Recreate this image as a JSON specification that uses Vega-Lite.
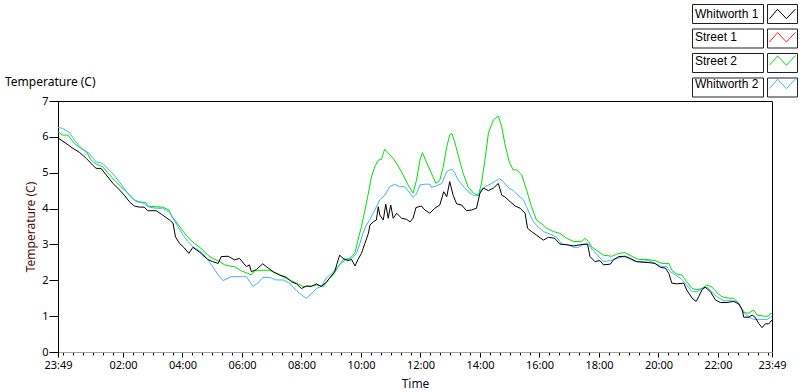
{
"$schema": "https://vega.github.io/schema/vega-lite/v6.json",
"width": 714, "height": 251,
"autosize": {"type": "none"},
"padding": {"left": 58, "top": 101, "right": 28, "bottom": 40},
"background": "white",
"config": {"view": {"stroke": "#000000", "strokeWidth": 1}, "font": "Noto Sans", "axis": {"grid": false, "labelFont": "Noto Sans", "titleFont": "Noto Sans"}},
"title": {"text": "Temperature (C)", "anchor": "start", "frame": "group", "orient": "top", "fontSize": 12, "fontWeight": "normal", "font": "Noto Sans", "color": "#000000", "dx": -53, "dy": 93, "offset": 8},
"datasets": {"temps": [
{"series":"Street 2","time":"2013-01-01T23:49","temp":6.14},
{"series":"Street 2","time":"2013-01-01T23:58","temp":6.05},
{"series":"Street 2","time":"2013-01-02T00:09","temp":6.05},
{"series":"Street 2","time":"2013-01-02T00:22","temp":5.82},
{"series":"Street 2","time":"2013-01-02T00:35","temp":5.68},
{"series":"Street 2","time":"2013-01-02T00:46","temp":5.59},
{"series":"Street 2","time":"2013-01-02T00:56","temp":5.35},
{"series":"Street 2","time":"2013-01-02T01:06","temp":5.24},
{"series":"Street 2","time":"2013-01-02T01:19","temp":5.17},
{"series":"Street 2","time":"2013-01-02T01:29","temp":5.00},
{"series":"Street 2","time":"2013-01-02T01:43","temp":4.79},
{"series":"Street 2","time":"2013-01-02T01:56","temp":4.61},
{"series":"Street 2","time":"2013-01-02T02:10","temp":4.43},
{"series":"Street 2","time":"2013-01-02T02:23","temp":4.24},
{"series":"Street 2","time":"2013-01-02T02:33","temp":4.19},
{"series":"Street 2","time":"2013-01-02T02:47","temp":4.16},
{"series":"Street 2","time":"2013-01-02T02:50","temp":4.07},
{"series":"Street 2","time":"2013-01-02T03:07","temp":4.05},
{"series":"Street 2","time":"2013-01-02T03:20","temp":4.04},
{"series":"Street 2","time":"2013-01-02T03:33","temp":3.96},
{"series":"Street 2","time":"2013-01-02T03:37","temp":3.82},
{"series":"Street 2","time":"2013-01-02T03:47","temp":3.63},
{"series":"Street 2","time":"2013-01-02T03:57","temp":3.45},
{"series":"Street 2","time":"2013-01-02T04:07","temp":3.26},
{"series":"Street 2","time":"2013-01-02T04:18","temp":3.10},
{"series":"Street 2","time":"2013-01-02T04:28","temp":2.99},
{"series":"Street 2","time":"2013-01-02T04:41","temp":2.85},
{"series":"Street 2","time":"2013-01-02T04:51","temp":2.70},
{"series":"Street 2","time":"2013-01-02T05:01","temp":2.61},
{"series":"Street 2","time":"2013-01-02T05:15","temp":2.52},
{"series":"Street 2","time":"2013-01-02T05:25","temp":2.43},
{"series":"Street 2","time":"2013-01-02T05:35","temp":2.40},
{"series":"Street 2","time":"2013-01-02T05:45","temp":2.38},
{"series":"Street 2","time":"2013-01-02T05:59","temp":2.26},
{"series":"Street 2","time":"2013-01-02T06:09","temp":2.21},
{"series":"Street 2","time":"2013-01-02T06:19","temp":2.15},
{"series":"Street 2","time":"2013-01-02T06:25","temp":2.26},
{"series":"Street 2","time":"2013-01-02T06:39","temp":2.28},
{"series":"Street 2","time":"2013-01-02T06:56","temp":2.28},
{"series":"Street 2","time":"2013-01-02T07:09","temp":2.19},
{"series":"Street 2","time":"2013-01-02T07:23","temp":2.10},
{"series":"Street 2","time":"2013-01-02T07:36","temp":2.01},
{"series":"Street 2","time":"2013-01-02T07:50","temp":1.92},
{"series":"Street 2","time":"2013-01-02T08:03","temp":1.83},
{"series":"Street 2","time":"2013-01-02T08:17","temp":1.83},
{"series":"Street 2","time":"2013-01-02T08:30","temp":1.87},
{"series":"Street 2","time":"2013-01-02T08:44","temp":1.83},
{"series":"Street 2","time":"2013-01-02T08:54","temp":2.01},
{"series":"Street 2","time":"2013-01-02T09:04","temp":2.15},
{"series":"Street 2","time":"2013-01-02T09:14","temp":2.38},
{"series":"Street 2","time":"2013-01-02T09:24","temp":2.57},
{"series":"Street 2","time":"2013-01-02T09:37","temp":2.61},
{"series":"Street 2","time":"2013-01-02T09:48","temp":2.77},
{"series":"Street 2","time":"2013-01-02T09:54","temp":3.12},
{"series":"Street 2","time":"2013-01-02T10:01","temp":3.50},
{"series":"Street 2","time":"2013-01-02T10:08","temp":3.96},
{"series":"Street 2","time":"2013-01-02T10:15","temp":4.43},
{"series":"Street 2","time":"2013-01-02T10:21","temp":4.88},
{"series":"Street 2","time":"2013-01-02T10:28","temp":5.17},
{"series":"Street 2","time":"2013-01-02T10:35","temp":5.35},
{"series":"Street 2","time":"2013-01-02T10:41","temp":5.37},
{"series":"Street 2","time":"2013-01-02T10:48","temp":5.66},
{"series":"Street 2","time":"2013-01-02T10:57","temp":5.52},
{"series":"Street 2","time":"2013-01-02T11:05","temp":5.40},
{"series":"Street 2","time":"2013-01-02T11:15","temp":5.19},
{"series":"Street 2","time":"2013-01-02T11:25","temp":4.94},
{"series":"Street 2","time":"2013-01-02T11:35","temp":4.66},
{"series":"Street 2","time":"2013-01-02T11:45","temp":4.43},
{"series":"Street 2","time":"2013-01-02T11:52","temp":4.79},
{"series":"Street 2","time":"2013-01-02T11:59","temp":5.35},
{"series":"Street 2","time":"2013-01-02T12:04","temp":5.56},
{"series":"Street 2","time":"2013-01-02T12:12","temp":5.30},
{"series":"Street 2","time":"2013-01-02T12:22","temp":4.99},
{"series":"Street 2","time":"2013-01-02T12:31","temp":4.70},
{"series":"Street 2","time":"2013-01-02T12:39","temp":4.79},
{"series":"Street 2","time":"2013-01-02T12:46","temp":5.17},
{"series":"Street 2","time":"2013-01-02T12:53","temp":5.72},
{"series":"Street 2","time":"2013-01-02T12:59","temp":6.05},
{"series":"Street 2","time":"2013-01-02T13:03","temp":6.10},
{"series":"Street 2","time":"2013-01-02T13:09","temp":5.86},
{"series":"Street 2","time":"2013-01-02T13:16","temp":5.50},
{"series":"Street 2","time":"2013-01-02T13:26","temp":4.99},
{"series":"Street 2","time":"2013-01-02T13:36","temp":4.61},
{"series":"Street 2","time":"2013-01-02T13:47","temp":4.43},
{"series":"Street 2","time":"2013-01-02T13:57","temp":4.37},
{"series":"Street 2","time":"2013-01-02T14:03","temp":4.70},
{"series":"Street 2","time":"2013-01-02T14:10","temp":5.35},
{"series":"Street 2","time":"2013-01-02T14:17","temp":6.10},
{"series":"Street 2","time":"2013-01-02T14:27","temp":6.47},
{"series":"Street 2","time":"2013-01-02T14:37","temp":6.58},
{"series":"Street 2","time":"2013-01-02T14:44","temp":6.28},
{"series":"Street 2","time":"2013-01-02T14:50","temp":5.82},
{"series":"Street 2","time":"2013-01-02T14:59","temp":5.30},
{"series":"Street 2","time":"2013-01-02T15:07","temp":5.08},
{"series":"Street 2","time":"2013-01-02T15:14","temp":5.08},
{"series":"Street 2","time":"2013-01-02T15:24","temp":4.94},
{"series":"Street 2","time":"2013-01-02T15:34","temp":4.52},
{"series":"Street 2","time":"2013-01-02T15:44","temp":4.05},
{"series":"Street 2","time":"2013-01-02T15:54","temp":3.68},
{"series":"Street 2","time":"2013-01-02T16:05","temp":3.57},
{"series":"Street 2","time":"2013-01-02T16:15","temp":3.45},
{"series":"Street 2","time":"2013-01-02T16:28","temp":3.36},
{"series":"Street 2","time":"2013-01-02T16:41","temp":3.31},
{"series":"Street 2","time":"2013-01-02T16:55","temp":3.17},
{"series":"Street 2","time":"2013-01-02T17:09","temp":3.08},
{"series":"Street 2","time":"2013-01-02T17:25","temp":3.08},
{"series":"Street 2","time":"2013-01-02T17:32","temp":3.17},
{"series":"Street 2","time":"2013-01-02T17:39","temp":3.08},
{"series":"Street 2","time":"2013-01-02T17:46","temp":2.92},
{"series":"Street 2","time":"2013-01-02T17:54","temp":2.85},
{"series":"Street 2","time":"2013-01-02T18:09","temp":2.70},
{"series":"Street 2","time":"2013-01-02T18:26","temp":2.67},
{"series":"Street 2","time":"2013-01-02T18:40","temp":2.75},
{"series":"Street 2","time":"2013-01-02T18:53","temp":2.77},
{"series":"Street 2","time":"2013-01-02T19:06","temp":2.67},
{"series":"Street 2","time":"2013-01-02T19:20","temp":2.58},
{"series":"Street 2","time":"2013-01-02T19:37","temp":2.58},
{"series":"Street 2","time":"2013-01-02T19:53","temp":2.55},
{"series":"Street 2","time":"2013-01-02T20:07","temp":2.47},
{"series":"Street 2","time":"2013-01-02T20:21","temp":2.47},
{"series":"Street 2","time":"2013-01-02T20:27","temp":2.28},
{"series":"Street 2","time":"2013-01-02T20:37","temp":2.17},
{"series":"Street 2","time":"2013-01-02T20:47","temp":2.15},
{"series":"Street 2","time":"2013-01-02T20:57","temp":1.96},
{"series":"Street 2","time":"2013-01-02T21:08","temp":1.77},
{"series":"Street 2","time":"2013-01-02T21:18","temp":1.74},
{"series":"Street 2","time":"2013-01-02T21:28","temp":1.77},
{"series":"Street 2","time":"2013-01-02T21:38","temp":1.87},
{"series":"Street 2","time":"2013-01-02T21:48","temp":1.81},
{"series":"Street 2","time":"2013-01-02T21:58","temp":1.65},
{"series":"Street 2","time":"2013-01-02T22:08","temp":1.54},
{"series":"Street 2","time":"2013-01-02T22:22","temp":1.50},
{"series":"Street 2","time":"2013-01-02T22:32","temp":1.50},
{"series":"Street 2","time":"2013-01-02T22:42","temp":1.36},
{"series":"Street 2","time":"2013-01-02T22:52","temp":1.09},
{"series":"Street 2","time":"2013-01-02T23:02","temp":1.09},
{"series":"Street 2","time":"2013-01-02T23:12","temp":1.17},
{"series":"Street 2","time":"2013-01-02T23:19","temp":1.03},
{"series":"Street 2","time":"2013-01-02T23:32","temp":1.00},
{"series":"Street 2","time":"2013-01-02T23:42","temp":1.00},
{"series":"Street 2","time":"2013-01-02T23:46","temp":1.08},
{"series":"Street 2","time":"2013-01-02T23:49","temp":1.08},
{"series":"Whitworth 2","time":"2013-01-01T23:49","temp":6.26},
{"series":"Whitworth 2","time":"2013-01-01T23:58","temp":6.24},
{"series":"Whitworth 2","time":"2013-01-02T00:12","temp":6.12},
{"series":"Whitworth 2","time":"2013-01-02T00:25","temp":5.86},
{"series":"Whitworth 2","time":"2013-01-02T00:39","temp":5.65},
{"series":"Whitworth 2","time":"2013-01-02T00:52","temp":5.54},
{"series":"Whitworth 2","time":"2013-01-02T01:06","temp":5.30},
{"series":"Whitworth 2","time":"2013-01-02T01:19","temp":5.26},
{"series":"Whitworth 2","time":"2013-01-02T01:29","temp":5.12},
{"series":"Whitworth 2","time":"2013-01-02T01:40","temp":4.97},
{"series":"Whitworth 2","time":"2013-01-02T01:50","temp":4.79},
{"series":"Whitworth 2","time":"2013-01-02T02:00","temp":4.61},
{"series":"Whitworth 2","time":"2013-01-02T02:13","temp":4.37},
{"series":"Whitworth 2","time":"2013-01-02T02:27","temp":4.19},
{"series":"Whitworth 2","time":"2013-01-02T02:40","temp":4.16},
{"series":"Whitworth 2","time":"2013-01-02T02:53","temp":4.04},
{"series":"Whitworth 2","time":"2013-01-02T03:07","temp":4.01},
{"series":"Whitworth 2","time":"2013-01-02T03:20","temp":4.01},
{"series":"Whitworth 2","time":"2013-01-02T03:34","temp":3.89},
{"series":"Whitworth 2","time":"2013-01-02T03:41","temp":3.73},
{"series":"Whitworth 2","time":"2013-01-02T03:51","temp":3.50},
{"series":"Whitworth 2","time":"2013-01-02T04:01","temp":3.26},
{"series":"Whitworth 2","time":"2013-01-02T04:11","temp":3.08},
{"series":"Whitworth 2","time":"2013-01-02T04:21","temp":2.94},
{"series":"Whitworth 2","time":"2013-01-02T04:31","temp":2.85},
{"series":"Whitworth 2","time":"2013-01-02T04:41","temp":2.75},
{"series":"Whitworth 2","time":"2013-01-02T04:51","temp":2.57},
{"series":"Whitworth 2","time":"2013-01-02T05:01","temp":2.38},
{"series":"Whitworth 2","time":"2013-01-02T05:12","temp":2.15},
{"series":"Whitworth 2","time":"2013-01-02T05:22","temp":1.99},
{"series":"Whitworth 2","time":"2013-01-02T05:28","temp":2.03},
{"series":"Whitworth 2","time":"2013-01-02T05:38","temp":2.10},
{"series":"Whitworth 2","time":"2013-01-02T06:09","temp":2.10},
{"series":"Whitworth 2","time":"2013-01-02T06:22","temp":1.83},
{"series":"Whitworth 2","time":"2013-01-02T06:32","temp":1.92},
{"series":"Whitworth 2","time":"2013-01-02T06:42","temp":2.08},
{"series":"Whitworth 2","time":"2013-01-02T06:56","temp":2.08},
{"series":"Whitworth 2","time":"2013-01-02T07:09","temp":2.01},
{"series":"Whitworth 2","time":"2013-01-02T07:23","temp":2.01},
{"series":"Whitworth 2","time":"2013-01-02T07:36","temp":1.92},
{"series":"Whitworth 2","time":"2013-01-02T07:50","temp":1.71},
{"series":"Whitworth 2","time":"2013-01-02T08:03","temp":1.56},
{"series":"Whitworth 2","time":"2013-01-02T08:10","temp":1.50},
{"series":"Whitworth 2","time":"2013-01-02T08:20","temp":1.62},
{"series":"Whitworth 2","time":"2013-01-02T08:30","temp":1.77},
{"series":"Whitworth 2","time":"2013-01-02T08:40","temp":1.83},
{"series":"Whitworth 2","time":"2013-01-02T08:50","temp":2.06},
{"series":"Whitworth 2","time":"2013-01-02T09:00","temp":2.19},
{"series":"Whitworth 2","time":"2013-01-02T09:11","temp":2.34},
{"series":"Whitworth 2","time":"2013-01-02T09:21","temp":2.49},
{"series":"Whitworth 2","time":"2013-01-02T09:31","temp":2.58},
{"series":"Whitworth 2","time":"2013-01-02T09:41","temp":2.61},
{"series":"Whitworth 2","time":"2013-01-02T09:51","temp":2.75},
{"series":"Whitworth 2","time":"2013-01-02T09:58","temp":3.03},
{"series":"Whitworth 2","time":"2013-01-02T10:04","temp":3.31},
{"series":"Whitworth 2","time":"2013-01-02T10:11","temp":3.54},
{"series":"Whitworth 2","time":"2013-01-02T10:18","temp":3.70},
{"series":"Whitworth 2","time":"2013-01-02T10:28","temp":3.96},
{"series":"Whitworth 2","time":"2013-01-02T10:38","temp":4.24},
{"series":"Whitworth 2","time":"2013-01-02T10:48","temp":4.37},
{"series":"Whitworth 2","time":"2013-01-02T10:58","temp":4.61},
{"series":"Whitworth 2","time":"2013-01-02T11:08","temp":4.68},
{"series":"Whitworth 2","time":"2013-01-02T11:18","temp":4.61},
{"series":"Whitworth 2","time":"2013-01-02T11:28","temp":4.61},
{"series":"Whitworth 2","time":"2013-01-02T11:39","temp":4.43},
{"series":"Whitworth 2","time":"2013-01-02T11:45","temp":4.31},
{"series":"Whitworth 2","time":"2013-01-02T11:52","temp":4.41},
{"series":"Whitworth 2","time":"2013-01-02T11:59","temp":4.66},
{"series":"Whitworth 2","time":"2013-01-02T12:09","temp":4.68},
{"series":"Whitworth 2","time":"2013-01-02T12:19","temp":4.68},
{"series":"Whitworth 2","time":"2013-01-02T12:22","temp":4.59},
{"series":"Whitworth 2","time":"2013-01-02T12:32","temp":4.63},
{"series":"Whitworth 2","time":"2013-01-02T12:43","temp":4.70},
{"series":"Whitworth 2","time":"2013-01-02T12:53","temp":5.03},
{"series":"Whitworth 2","time":"2013-01-02T13:03","temp":5.10},
{"series":"Whitworth 2","time":"2013-01-02T13:09","temp":5.00},
{"series":"Whitworth 2","time":"2013-01-02T13:16","temp":4.79},
{"series":"Whitworth 2","time":"2013-01-02T13:26","temp":4.63},
{"series":"Whitworth 2","time":"2013-01-02T13:36","temp":4.47},
{"series":"Whitworth 2","time":"2013-01-02T13:47","temp":4.37},
{"series":"Whitworth 2","time":"2013-01-02T13:57","temp":4.37},
{"series":"Whitworth 2","time":"2013-01-02T14:03","temp":4.54},
{"series":"Whitworth 2","time":"2013-01-02T14:13","temp":4.63},
{"series":"Whitworth 2","time":"2013-01-02T14:24","temp":4.70},
{"series":"Whitworth 2","time":"2013-01-02T14:34","temp":4.79},
{"series":"Whitworth 2","time":"2013-01-02T14:39","temp":4.84},
{"series":"Whitworth 2","time":"2013-01-02T14:47","temp":4.75},
{"series":"Whitworth 2","time":"2013-01-02T14:57","temp":4.59},
{"series":"Whitworth 2","time":"2013-01-02T15:07","temp":4.50},
{"series":"Whitworth 2","time":"2013-01-02T15:17","temp":4.37},
{"series":"Whitworth 2","time":"2013-01-02T15:28","temp":4.24},
{"series":"Whitworth 2","time":"2013-01-02T15:34","temp":4.05},
{"series":"Whitworth 2","time":"2013-01-02T15:41","temp":3.82},
{"series":"Whitworth 2","time":"2013-01-02T15:48","temp":3.63},
{"series":"Whitworth 2","time":"2013-01-02T15:58","temp":3.48},
{"series":"Whitworth 2","time":"2013-01-02T16:08","temp":3.36},
{"series":"Whitworth 2","time":"2013-01-02T16:21","temp":3.29},
{"series":"Whitworth 2","time":"2013-01-02T16:35","temp":3.20},
{"series":"Whitworth 2","time":"2013-01-02T16:45","temp":3.01},
{"series":"Whitworth 2","time":"2013-01-02T16:58","temp":2.99},
{"series":"Whitworth 2","time":"2013-01-02T17:09","temp":2.92},
{"series":"Whitworth 2","time":"2013-01-02T17:19","temp":2.92},
{"series":"Whitworth 2","time":"2013-01-02T17:29","temp":3.01},
{"series":"Whitworth 2","time":"2013-01-02T17:39","temp":3.01},
{"series":"Whitworth 2","time":"2013-01-02T17:46","temp":2.87},
{"series":"Whitworth 2","time":"2013-01-02T17:54","temp":2.75},
{"series":"Whitworth 2","time":"2013-01-02T18:09","temp":2.52},
{"series":"Whitworth 2","time":"2013-01-02T18:23","temp":2.55},
{"series":"Whitworth 2","time":"2013-01-02T18:36","temp":2.61},
{"series":"Whitworth 2","time":"2013-01-02T18:50","temp":2.66},
{"series":"Whitworth 2","time":"2013-01-02T19:00","temp":2.61},
{"series":"Whitworth 2","time":"2013-01-02T19:13","temp":2.52},
{"series":"Whitworth 2","time":"2013-01-02T19:27","temp":2.52},
{"series":"Whitworth 2","time":"2013-01-02T19:40","temp":2.55},
{"series":"Whitworth 2","time":"2013-01-02T19:53","temp":2.47},
{"series":"Whitworth 2","time":"2013-01-02T20:07","temp":2.38},
{"series":"Whitworth 2","time":"2013-01-02T20:17","temp":2.38},
{"series":"Whitworth 2","time":"2013-01-02T20:24","temp":2.24},
{"series":"Whitworth 2","time":"2013-01-02T20:34","temp":2.15},
{"series":"Whitworth 2","time":"2013-01-02T20:47","temp":2.03},
{"series":"Whitworth 2","time":"2013-01-02T20:57","temp":1.87},
{"series":"Whitworth 2","time":"2013-01-02T21:08","temp":1.68},
{"series":"Whitworth 2","time":"2013-01-02T21:18","temp":1.68},
{"series":"Whitworth 2","time":"2013-01-02T21:28","temp":1.77},
{"series":"Whitworth 2","time":"2013-01-02T21:38","temp":1.81},
{"series":"Whitworth 2","time":"2013-01-02T21:48","temp":1.68},
{"series":"Whitworth 2","time":"2013-01-02T21:58","temp":1.54},
{"series":"Whitworth 2","time":"2013-01-02T22:12","temp":1.43},
{"series":"Whitworth 2","time":"2013-01-02T22:25","temp":1.43},
{"series":"Whitworth 2","time":"2013-01-02T22:38","temp":1.41},
{"series":"Whitworth 2","time":"2013-01-02T22:49","temp":1.19},
{"series":"Whitworth 2","time":"2013-01-02T22:59","temp":1.00},
{"series":"Whitworth 2","time":"2013-01-02T23:12","temp":0.91},
{"series":"Whitworth 2","time":"2013-01-02T23:25","temp":0.91},
{"series":"Whitworth 2","time":"2013-01-02T23:39","temp":0.91},
{"series":"Whitworth 2","time":"2013-01-02T23:46","temp":0.97},
{"series":"Whitworth 2","time":"2013-01-02T23:49","temp":1.00},
{"series":"Whitworth 1","time":"2013-01-01T23:49","temp":5.97},
{"series":"Whitworth 1","time":"2013-01-02T00:05","temp":5.82},
{"series":"Whitworth 1","time":"2013-01-02T00:19","temp":5.68},
{"series":"Whitworth 1","time":"2013-01-02T00:32","temp":5.57},
{"series":"Whitworth 1","time":"2013-01-02T00:46","temp":5.40},
{"series":"Whitworth 1","time":"2013-01-02T00:59","temp":5.21},
{"series":"Whitworth 1","time":"2013-01-02T01:06","temp":5.12},
{"series":"Whitworth 1","time":"2013-01-02T01:16","temp":5.12},
{"series":"Whitworth 1","time":"2013-01-02T01:26","temp":4.94},
{"series":"Whitworth 1","time":"2013-01-02T01:40","temp":4.70},
{"series":"Whitworth 1","time":"2013-01-02T01:53","temp":4.52},
{"series":"Whitworth 1","time":"2013-01-02T02:03","temp":4.37},
{"series":"Whitworth 1","time":"2013-01-02T02:13","temp":4.19},
{"series":"Whitworth 1","time":"2013-01-02T02:23","temp":4.07},
{"series":"Whitworth 1","time":"2013-01-02T02:33","temp":4.04},
{"series":"Whitworth 1","time":"2013-01-02T02:43","temp":4.04},
{"series":"Whitworth 1","time":"2013-01-02T02:50","temp":3.94},
{"series":"Whitworth 1","time":"2013-01-02T03:07","temp":3.94},
{"series":"Whitworth 1","time":"2013-01-02T03:20","temp":3.82},
{"series":"Whitworth 1","time":"2013-01-02T03:34","temp":3.68},
{"series":"Whitworth 1","time":"2013-01-02T03:41","temp":3.59},
{"series":"Whitworth 1","time":"2013-01-02T03:46","temp":3.21},
{"series":"Whitworth 1","time":"2013-01-02T03:54","temp":3.03},
{"series":"Whitworth 1","time":"2013-01-02T04:04","temp":2.90},
{"series":"Whitworth 1","time":"2013-01-02T04:13","temp":2.75},
{"series":"Whitworth 1","time":"2013-01-02T04:21","temp":2.92},
{"series":"Whitworth 1","time":"2013-01-02T04:34","temp":2.79},
{"series":"Whitworth 1","time":"2013-01-02T04:51","temp":2.58},
{"series":"Whitworth 1","time":"2013-01-02T05:01","temp":2.52},
{"series":"Whitworth 1","time":"2013-01-02T05:12","temp":2.47},
{"series":"Whitworth 1","time":"2013-01-02T05:18","temp":2.66},
{"series":"Whitworth 1","time":"2013-01-02T05:32","temp":2.67},
{"series":"Whitworth 1","time":"2013-01-02T05:45","temp":2.57},
{"series":"Whitworth 1","time":"2013-01-02T05:55","temp":2.61},
{"series":"Whitworth 1","time":"2013-01-02T06:09","temp":2.38},
{"series":"Whitworth 1","time":"2013-01-02T06:15","temp":2.43},
{"series":"Whitworth 1","time":"2013-01-02T06:19","temp":2.24},
{"series":"Whitworth 1","time":"2013-01-02T06:29","temp":2.30},
{"series":"Whitworth 1","time":"2013-01-02T06:42","temp":2.46},
{"series":"Whitworth 1","time":"2013-01-02T06:53","temp":2.34},
{"series":"Whitworth 1","time":"2013-01-02T07:03","temp":2.24},
{"series":"Whitworth 1","time":"2013-01-02T07:16","temp":2.15},
{"series":"Whitworth 1","time":"2013-01-02T07:30","temp":2.08},
{"series":"Whitworth 1","time":"2013-01-02T07:40","temp":1.96},
{"series":"Whitworth 1","time":"2013-01-02T07:50","temp":1.90},
{"series":"Whitworth 1","time":"2013-01-02T08:00","temp":1.77},
{"series":"Whitworth 1","time":"2013-01-02T08:10","temp":1.84},
{"series":"Whitworth 1","time":"2013-01-02T08:20","temp":1.83},
{"series":"Whitworth 1","time":"2013-01-02T08:30","temp":1.90},
{"series":"Whitworth 1","time":"2013-01-02T08:40","temp":1.83},
{"series":"Whitworth 1","time":"2013-01-02T08:50","temp":1.94},
{"series":"Whitworth 1","time":"2013-01-02T09:00","temp":2.12},
{"series":"Whitworth 1","time":"2013-01-02T09:07","temp":2.24},
{"series":"Whitworth 1","time":"2013-01-02T09:11","temp":2.43},
{"series":"Whitworth 1","time":"2013-01-02T09:17","temp":2.70},
{"series":"Whitworth 1","time":"2013-01-02T09:24","temp":2.61},
{"series":"Whitworth 1","time":"2013-01-02T09:34","temp":2.55},
{"series":"Whitworth 1","time":"2013-01-02T09:41","temp":2.58},
{"series":"Whitworth 1","time":"2013-01-02T09:48","temp":2.40},
{"series":"Whitworth 1","time":"2013-01-02T09:54","temp":2.58},
{"series":"Whitworth 1","time":"2013-01-02T10:01","temp":2.75},
{"series":"Whitworth 1","time":"2013-01-02T10:08","temp":3.03},
{"series":"Whitworth 1","time":"2013-01-02T10:15","temp":3.31},
{"series":"Whitworth 1","time":"2013-01-02T10:18","temp":3.54},
{"series":"Whitworth 1","time":"2013-01-02T10:25","temp":3.63},
{"series":"Whitworth 1","time":"2013-01-02T10:31","temp":3.68},
{"series":"Whitworth 1","time":"2013-01-02T10:35","temp":4.05},
{"series":"Whitworth 1","time":"2013-01-02T10:38","temp":3.82},
{"series":"Whitworth 1","time":"2013-01-02T10:45","temp":3.68},
{"series":"Whitworth 1","time":"2013-01-02T10:50","temp":4.12},
{"series":"Whitworth 1","time":"2013-01-02T10:55","temp":3.73},
{"series":"Whitworth 1","time":"2013-01-02T11:00","temp":4.10},
{"series":"Whitworth 1","time":"2013-01-02T11:05","temp":3.73},
{"series":"Whitworth 1","time":"2013-01-02T11:12","temp":3.87},
{"series":"Whitworth 1","time":"2013-01-02T11:22","temp":3.73},
{"series":"Whitworth 1","time":"2013-01-02T11:32","temp":3.70},
{"series":"Whitworth 1","time":"2013-01-02T11:39","temp":3.63},
{"series":"Whitworth 1","time":"2013-01-02T11:45","temp":3.73},
{"series":"Whitworth 1","time":"2013-01-02T11:51","temp":4.03},
{"series":"Whitworth 1","time":"2013-01-02T12:02","temp":4.07},
{"series":"Whitworth 1","time":"2013-01-02T12:09","temp":3.96},
{"series":"Whitworth 1","time":"2013-01-02T12:19","temp":3.87},
{"series":"Whitworth 1","time":"2013-01-02T12:29","temp":4.01},
{"series":"Whitworth 1","time":"2013-01-02T12:39","temp":4.10},
{"series":"Whitworth 1","time":"2013-01-02T12:47","temp":4.47},
{"series":"Whitworth 1","time":"2013-01-02T12:53","temp":4.33},
{"series":"Whitworth 1","time":"2013-01-02T12:59","temp":4.75},
{"series":"Whitworth 1","time":"2013-01-02T13:06","temp":4.37},
{"series":"Whitworth 1","time":"2013-01-02T13:13","temp":4.13},
{"series":"Whitworth 1","time":"2013-01-02T13:23","temp":4.10},
{"series":"Whitworth 1","time":"2013-01-02T13:33","temp":3.94},
{"series":"Whitworth 1","time":"2013-01-02T13:43","temp":3.96},
{"series":"Whitworth 1","time":"2013-01-02T13:53","temp":4.01},
{"series":"Whitworth 1","time":"2013-01-02T14:00","temp":4.43},
{"series":"Whitworth 1","time":"2013-01-02T14:07","temp":4.57},
{"series":"Whitworth 1","time":"2013-01-02T14:17","temp":4.50},
{"series":"Whitworth 1","time":"2013-01-02T14:27","temp":4.57},
{"series":"Whitworth 1","time":"2013-01-02T14:37","temp":4.70},
{"series":"Whitworth 1","time":"2013-01-02T14:44","temp":4.37},
{"series":"Whitworth 1","time":"2013-01-02T14:50","temp":4.33},
{"series":"Whitworth 1","time":"2013-01-02T15:01","temp":4.19},
{"series":"Whitworth 1","time":"2013-01-02T15:11","temp":4.07},
{"series":"Whitworth 1","time":"2013-01-02T15:21","temp":4.01},
{"series":"Whitworth 1","time":"2013-01-02T15:31","temp":3.87},
{"series":"Whitworth 1","time":"2013-01-02T15:36","temp":3.45},
{"series":"Whitworth 1","time":"2013-01-02T15:44","temp":3.36},
{"series":"Whitworth 1","time":"2013-01-02T15:54","temp":3.26},
{"series":"Whitworth 1","time":"2013-01-02T16:08","temp":3.12},
{"series":"Whitworth 1","time":"2013-01-02T16:18","temp":3.20},
{"series":"Whitworth 1","time":"2013-01-02T16:31","temp":3.17},
{"series":"Whitworth 1","time":"2013-01-02T16:41","temp":3.01},
{"series":"Whitworth 1","time":"2013-01-02T16:55","temp":2.99},
{"series":"Whitworth 1","time":"2013-01-02T17:09","temp":2.96},
{"series":"Whitworth 1","time":"2013-01-02T17:22","temp":2.99},
{"series":"Whitworth 1","time":"2013-01-02T17:37","temp":3.01},
{"series":"Whitworth 1","time":"2013-01-02T17:42","temp":2.66},
{"series":"Whitworth 1","time":"2013-01-02T17:52","temp":2.52},
{"series":"Whitworth 1","time":"2013-01-02T18:02","temp":2.55},
{"series":"Whitworth 1","time":"2013-01-02T18:09","temp":2.43},
{"series":"Whitworth 1","time":"2013-01-02T18:23","temp":2.45},
{"series":"Whitworth 1","time":"2013-01-02T18:29","temp":2.57},
{"series":"Whitworth 1","time":"2013-01-02T18:40","temp":2.66},
{"series":"Whitworth 1","time":"2013-01-02T18:53","temp":2.67},
{"series":"Whitworth 1","time":"2013-01-02T19:03","temp":2.61},
{"series":"Whitworth 1","time":"2013-01-02T19:16","temp":2.52},
{"series":"Whitworth 1","time":"2013-01-02T19:30","temp":2.50},
{"series":"Whitworth 1","time":"2013-01-02T19:43","temp":2.49},
{"series":"Whitworth 1","time":"2013-01-02T19:53","temp":2.47},
{"series":"Whitworth 1","time":"2013-01-02T20:04","temp":2.36},
{"series":"Whitworth 1","time":"2013-01-02T20:14","temp":2.34},
{"series":"Whitworth 1","time":"2013-01-02T20:21","temp":2.19},
{"series":"Whitworth 1","time":"2013-01-02T20:27","temp":1.92},
{"series":"Whitworth 1","time":"2013-01-02T20:37","temp":1.90},
{"series":"Whitworth 1","time":"2013-01-02T20:51","temp":1.92},
{"series":"Whitworth 1","time":"2013-01-02T20:57","temp":1.73},
{"series":"Whitworth 1","time":"2013-01-02T21:08","temp":1.50},
{"series":"Whitworth 1","time":"2013-01-02T21:16","temp":1.41},
{"series":"Whitworth 1","time":"2013-01-02T21:21","temp":1.54},
{"series":"Whitworth 1","time":"2013-01-02T21:28","temp":1.74},
{"series":"Whitworth 1","time":"2013-01-02T21:34","temp":1.81},
{"series":"Whitworth 1","time":"2013-01-02T21:45","temp":1.68},
{"series":"Whitworth 1","time":"2013-01-02T21:55","temp":1.45},
{"series":"Whitworth 1","time":"2013-01-02T22:05","temp":1.38},
{"series":"Whitworth 1","time":"2013-01-02T22:18","temp":1.38},
{"series":"Whitworth 1","time":"2013-01-02T22:32","temp":1.41},
{"series":"Whitworth 1","time":"2013-01-02T22:42","temp":1.34},
{"series":"Whitworth 1","time":"2013-01-02T22:49","temp":1.17},
{"series":"Whitworth 1","time":"2013-01-02T22:52","temp":0.97},
{"series":"Whitworth 1","time":"2013-01-02T23:02","temp":0.97},
{"series":"Whitworth 1","time":"2013-01-02T23:09","temp":1.03},
{"series":"Whitworth 1","time":"2013-01-02T23:15","temp":0.97},
{"series":"Whitworth 1","time":"2013-01-02T23:22","temp":0.80},
{"series":"Whitworth 1","time":"2013-01-02T23:29","temp":0.68},
{"series":"Whitworth 1","time":"2013-01-02T23:36","temp":0.79},
{"series":"Whitworth 1","time":"2013-01-02T23:42","temp":0.78},
{"series":"Whitworth 1","time":"2013-01-02T23:49","temp":0.89}
]},
"data": {"name": "temps"},
"mark": {"type": "line", "strokeWidth": 1, "interpolate": "linear", "color": "#000000"},
"encoding": {
"x": {"field": "time", "type": "temporal",
 "scale": {"domain": [{"year": 2013, "month": 1, "date": 1, "hours": 23, "minutes": 49}, {"year": 2013, "month": 1, "date": 2, "hours": 23, "minutes": 49}], "nice": false},
 "axis": {"values": [
 {"year":2013,"month":1,"date":1,"hours":23,"minutes":49},
 {"year":2013,"month":1,"date":2,"hours":0,"minutes":0},{"year":2013,"month":1,"date":2,"hours":0,"minutes":20},{"year":2013,"month":1,"date":2,"hours":0,"minutes":40},
 {"year":2013,"month":1,"date":2,"hours":1,"minutes":0},{"year":2013,"month":1,"date":2,"hours":1,"minutes":20},{"year":2013,"month":1,"date":2,"hours":1,"minutes":40},
 {"year":2013,"month":1,"date":2,"hours":2,"minutes":0},{"year":2013,"month":1,"date":2,"hours":2,"minutes":20},{"year":2013,"month":1,"date":2,"hours":2,"minutes":40},
 {"year":2013,"month":1,"date":2,"hours":3,"minutes":0},{"year":2013,"month":1,"date":2,"hours":3,"minutes":20},{"year":2013,"month":1,"date":2,"hours":3,"minutes":40},
 {"year":2013,"month":1,"date":2,"hours":4,"minutes":0},{"year":2013,"month":1,"date":2,"hours":4,"minutes":20},{"year":2013,"month":1,"date":2,"hours":4,"minutes":40},
 {"year":2013,"month":1,"date":2,"hours":5,"minutes":0},{"year":2013,"month":1,"date":2,"hours":5,"minutes":20},{"year":2013,"month":1,"date":2,"hours":5,"minutes":40},
 {"year":2013,"month":1,"date":2,"hours":6,"minutes":0},{"year":2013,"month":1,"date":2,"hours":6,"minutes":20},{"year":2013,"month":1,"date":2,"hours":6,"minutes":40},
 {"year":2013,"month":1,"date":2,"hours":7,"minutes":0},{"year":2013,"month":1,"date":2,"hours":7,"minutes":20},{"year":2013,"month":1,"date":2,"hours":7,"minutes":40},
 {"year":2013,"month":1,"date":2,"hours":8,"minutes":0},{"year":2013,"month":1,"date":2,"hours":8,"minutes":20},{"year":2013,"month":1,"date":2,"hours":8,"minutes":40},
 {"year":2013,"month":1,"date":2,"hours":9,"minutes":0},{"year":2013,"month":1,"date":2,"hours":9,"minutes":20},{"year":2013,"month":1,"date":2,"hours":9,"minutes":40},
 {"year":2013,"month":1,"date":2,"hours":10,"minutes":0},{"year":2013,"month":1,"date":2,"hours":10,"minutes":20},{"year":2013,"month":1,"date":2,"hours":10,"minutes":40},
 {"year":2013,"month":1,"date":2,"hours":11,"minutes":0},{"year":2013,"month":1,"date":2,"hours":11,"minutes":20},{"year":2013,"month":1,"date":2,"hours":11,"minutes":40},
 {"year":2013,"month":1,"date":2,"hours":12,"minutes":0},{"year":2013,"month":1,"date":2,"hours":12,"minutes":20},{"year":2013,"month":1,"date":2,"hours":12,"minutes":40},
 {"year":2013,"month":1,"date":2,"hours":13,"minutes":0},{"year":2013,"month":1,"date":2,"hours":13,"minutes":20},{"year":2013,"month":1,"date":2,"hours":13,"minutes":40},
 {"year":2013,"month":1,"date":2,"hours":14,"minutes":0},{"year":2013,"month":1,"date":2,"hours":14,"minutes":20},{"year":2013,"month":1,"date":2,"hours":14,"minutes":40},
 {"year":2013,"month":1,"date":2,"hours":15,"minutes":0},{"year":2013,"month":1,"date":2,"hours":15,"minutes":20},{"year":2013,"month":1,"date":2,"hours":15,"minutes":40},
 {"year":2013,"month":1,"date":2,"hours":16,"minutes":0},{"year":2013,"month":1,"date":2,"hours":16,"minutes":20},{"year":2013,"month":1,"date":2,"hours":16,"minutes":40},
 {"year":2013,"month":1,"date":2,"hours":17,"minutes":0},{"year":2013,"month":1,"date":2,"hours":17,"minutes":20},{"year":2013,"month":1,"date":2,"hours":17,"minutes":40},
 {"year":2013,"month":1,"date":2,"hours":18,"minutes":0},{"year":2013,"month":1,"date":2,"hours":18,"minutes":20},{"year":2013,"month":1,"date":2,"hours":18,"minutes":40},
 {"year":2013,"month":1,"date":2,"hours":19,"minutes":0},{"year":2013,"month":1,"date":2,"hours":19,"minutes":20},{"year":2013,"month":1,"date":2,"hours":19,"minutes":40},
 {"year":2013,"month":1,"date":2,"hours":20,"minutes":0},{"year":2013,"month":1,"date":2,"hours":20,"minutes":20},{"year":2013,"month":1,"date":2,"hours":20,"minutes":40},
 {"year":2013,"month":1,"date":2,"hours":21,"minutes":0},{"year":2013,"month":1,"date":2,"hours":21,"minutes":20},{"year":2013,"month":1,"date":2,"hours":21,"minutes":40},
 {"year":2013,"month":1,"date":2,"hours":22,"minutes":0},{"year":2013,"month":1,"date":2,"hours":22,"minutes":20},{"year":2013,"month":1,"date":2,"hours":22,"minutes":40},
 {"year":2013,"month":1,"date":2,"hours":23,"minutes":0},{"year":2013,"month":1,"date":2,"hours":23,"minutes":20},{"year":2013,"month":1,"date":2,"hours":23,"minutes":40},
 {"year":2013,"month":1,"date":2,"hours":23,"minutes":49}],
  "labelExpr": "(minutes(datum.value) == 0 && hours(datum.value) % 2 == 0 && hours(datum.value) > 0) || minutes(datum.value) == 49 ? timeFormat(datum.value, '%H:%M') : ''",
  "tickSize": {"condition": {"test": "(minutes(datum.value) == 0 && hours(datum.value) % 2 == 0 && hours(datum.value) > 0) || minutes(datum.value) == 49", "value": 5}, "value": 3},
  "labelFlush": false, "labelOverlap": false, "tickColor": "#000000", "domainColor": "#a0a0a0", "labelFontSize": 11, "labelColor": "#000000", "labelPadding": 2, "title": "Time", "titleFontSize": 12, "titleFontWeight": "normal", "titleColor": "#10102a", "titlePadding": 8}},
"y": {"field": "temp", "type": "quantitative",
 "scale": {"domain": [0, 7], "nice": false},
 "axis": {"values": [0, 1, 2, 3, 4, 5, 6, 7], "tickSize": 9, "tickColor": "#000000", "domainColor": "#000000", "labelFontSize": 11, "labelColor": "#000000", "labelPadding": 1, "title": "Temperature (C)", "titleFontSize": 12, "titleFontWeight": "normal", "titleColor": "#4a1010", "titlePadding": 4}},
"color": {"field": "series", "type": "nominal",
 "scale": {"domain": ["Whitworth 1", "Street 1", "Street 2", "Whitworth 2"], "range": ["#000000", "#ff2020", "#00e000", "#3cb4f5"]},
 "legend": {"orient": "none", "legendX": 714, "legendY": -97.5, "title": null, "symbolType": "M-1.3,0.47L-0.49,-0.47L0.39,0.47L1.3,-0.5", "symbolSize": 400, "symbolStrokeWidth": 1, "symbolFillColor": "transparent", "labelFontSize": 12, "labelFont": "Liberation Sans", "labelColor": "#000000", "labelAlign": "left", "labelOffset": -98, "rowPadding": 5.3, "padding": 0, "symbolOffset": 0, "labelLimit": 200}},
"opacity": {"field": "series", "type": "ordinal",
 "scale": {"domain": ["Whitworth 2", "Street 2", "Street 1", "Whitworth 1"], "range": [1, 1, 1, 1]},
 "legend": {"orient": "none", "legendX": 714, "legendY": -97.5, "title": null, "symbolType": "M-9,-0.95H-1.9V0.95H-9Z M-1.5,-0.95H1.5V0.95H-1.5Z", "symbolSize": 400, "symbolStrokeWidth": 1, "symbolStrokeColor": "#202020", "symbolFillColor": "transparent", "labelExpr": "''", "labelFontSize": 1, "rowPadding": 1.5, "padding": 0, "symbolOffset": 0}}
}
}
